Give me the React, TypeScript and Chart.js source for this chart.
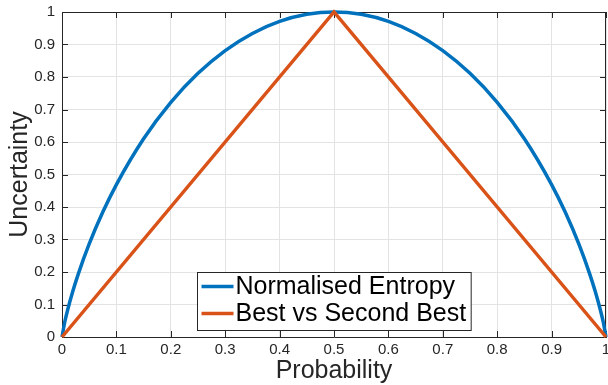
import React, { useEffect, useRef } from "react";
import { Chart, registerables } from "chart.js";

Chart.register(...registerables);

const probability = [0, 0.005, 0.01, 0.02, 0.03, 0.05, 0.075, 0.1, 0.15, 0.2, 0.25, 0.3, 0.35, 0.4, 0.45, 0.5, 0.55, 0.6, 0.65, 0.7, 0.75, 0.8, 0.85, 0.9, 0.925, 0.95, 0.97, 0.98, 0.99, 0.995, 1];
const normalisedEntropy = [0, 0.0454, 0.0808, 0.1414, 0.1944, 0.2864, 0.3843, 0.469, 0.6098, 0.7219, 0.8113, 0.8813, 0.9341, 0.971, 0.9928, 1, 0.9928, 0.971, 0.9341, 0.8813, 0.8113, 0.7219, 0.6098, 0.469, 0.3843, 0.2864, 0.1944, 0.1414, 0.0808, 0.0454, 0];
const bvsbProbability = [0, 0.5, 1];
const bestVsSecondBest = [0, 1, 0];
const seriesLabels = ["Normalised Entropy", "Best vs Second Best"];
const seriesColors = ["#0072BD", "#D95319"];
const xTitle = "Probability";
const yTitle = "Uncertainty";

const FONT = "'Liberation Sans', Arial, Helvetica, sans-serif";
const AXIS = "#262626";

const fmt = (v: number) => String(Math.round(v * 10) / 10);

const boxPlugin = {
  id: "matlabBox",
  beforeDatasetsDraw(chart: any) {
    const { ctx, chartArea: a, scales } = chart;
    ctx.save();
    ctx.strokeStyle = AXIS;
    ctx.lineWidth = 1;
    ctx.beginPath();
    ctx.moveTo(a.left, a.top + 0.5);
    ctx.lineTo(a.right, a.top + 0.5);
    ctx.moveTo(a.right - 0.5, a.top);
    ctx.lineTo(a.right - 0.5, a.bottom);
    const tl = 6;
    scales.x.ticks.forEach((t: any) => {
      const px = Math.round(scales.x.getPixelForValue(t.value)) + 0.5;
      ctx.moveTo(px, a.bottom);
      ctx.lineTo(px, a.bottom - tl);
      ctx.moveTo(px, a.top);
      ctx.lineTo(px, a.top + tl);
    });
    scales.y.ticks.forEach((t: any) => {
      const py = Math.round(scales.y.getPixelForValue(t.value)) + 0.5;
      ctx.moveTo(a.left, py);
      ctx.lineTo(a.left + tl, py);
      ctx.moveTo(a.right, py);
      ctx.lineTo(a.right - tl, py);
    });
    ctx.stroke();
    ctx.restore();
  },
  afterDraw(chart: any) {
    const { ctx, chartArea: a } = chart;
    ctx.save();
    ctx.font = `25px ${FONT}`;
    const maxW = Math.max(...seriesLabels.map((s) => ctx.measureText(s).width));
    const w = 38 + maxW + 5;
    const h = 58;
    const left = Math.round((a.left + a.right) / 2 - w / 2) + 0.5;
    const top = Math.round(a.bottom - 7 - h) + 0.5;
    ctx.fillStyle = "#ffffff";
    ctx.fillRect(left, top, w, h);
    ctx.strokeStyle = AXIS;
    ctx.lineWidth = 1;
    ctx.strokeRect(left, top, w, h);
    seriesLabels.forEach((lab, i) => {
      const cy = top + 14 + i * 27;
      ctx.strokeStyle = seriesColors[i];
      ctx.lineWidth = 3.5;
      ctx.beginPath();
      ctx.moveTo(left + 4, cy);
      ctx.lineTo(left + 36, cy);
      ctx.stroke();
      ctx.fillStyle = "#000000";
      ctx.textBaseline = "middle";
      ctx.textAlign = "left";
      ctx.fillText(lab, left + 38, cy + 1);
    });
    ctx.restore();
  },
};

export default function App() {
  const ref = useRef<HTMLCanvasElement | null>(null);
  useEffect(() => {
    if (!ref.current) return;
    const chart = new Chart(ref.current, {
      type: "line",
      data: {
        datasets: [
          {
            label: seriesLabels[0],
            data: probability.map((p, i) => ({ x: p, y: normalisedEntropy[i] })),
            borderColor: seriesColors[0],
            borderWidth: 3.5,
            pointRadius: 0,
            cubicInterpolationMode: "monotone",
            clip: false,
            order: 1,
          },
          {
            label: seriesLabels[1],
            data: bvsbProbability.map((p, i) => ({ x: p, y: bestVsSecondBest[i] })),
            borderColor: seriesColors[1],
            borderWidth: 3.5,
            pointRadius: 0,
            tension: 0,
            clip: false,
            order: 0,
          },
        ],
      },
      options: {
        responsive: false,
        animation: false,
        layout: { padding: { left: 0, right: 2, top: 12, bottom: 0 } },
        plugins: { legend: { display: false }, tooltip: { enabled: false } },
        scales: {
          x: {
            type: "linear",
            min: 0,
            max: 1,
            afterFit: (s: any) => { s.height = 48; s.paddingLeft = 0; s.paddingRight = 0; },
            grid: { color: "#e3e3e3", drawTicks: false, lineWidth: 1 },
            border: { display: true, color: AXIS, width: 1 },
            ticks: { stepSize: 0.1, padding: 4, color: AXIS, font: { family: FONT, size: 15 }, callback: (v: any) => fmt(Number(v)), maxRotation: 0, autoSkip: false },
            title: { display: true, text: xTitle, color: AXIS, font: { family: FONT, size: 25, lineHeight: 1.1 }, padding: { top: 0, bottom: 0 } },
          },
          y: {
            type: "linear",
            min: 0,
            max: 1,
            afterFit: (s: any) => { s.width = 62; s.paddingTop = 0; s.paddingBottom = 0; },
            grid: { color: "#e3e3e3", drawTicks: false, lineWidth: 1 },
            border: { display: true, color: AXIS, width: 1 },
            ticks: { stepSize: 0.1, padding: 7, color: AXIS, font: { family: FONT, size: 15 }, callback: (v: any) => fmt(Number(v)), autoSkip: false },
            title: { display: true, text: yTitle, color: AXIS, font: { family: FONT, size: 25, lineHeight: 1.1 }, padding: { top: 6, bottom: 0 } },
          },
        },
      },
      plugins: [boxPlugin],
    } as any);
    return () => chart.destroy();
  }, []);
  return (
    <div style={{ position: "fixed", left: 0, top: 0, width: 608, height: 385, background: "#fff" }}>
      <canvas ref={ref} width={608} height={385} style={{ width: 608, height: 385, display: "block" }} />
    </div>
  );
}
